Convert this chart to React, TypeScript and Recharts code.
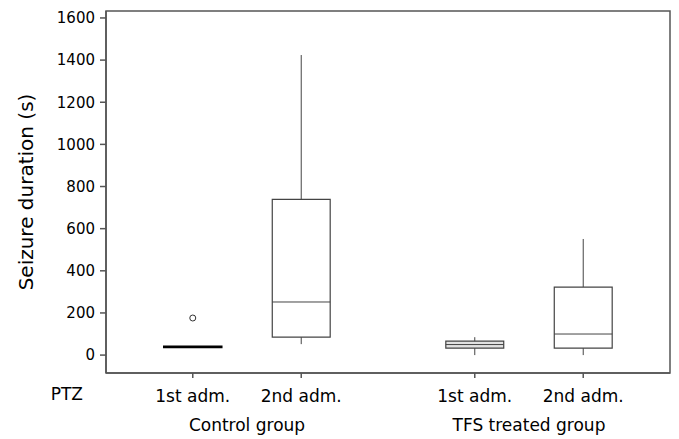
import React from 'react';
import {
  ComposedChart,
  XAxis,
  YAxis,
  ReferenceArea,
  ReferenceLine,
  Scatter,
} from 'recharts';

// Categories (administrations) and their groups
const categories = ['1st adm.', '2nd adm.', '1st adm.', '2nd adm.'];
const xPositions = [1, 2, 3.6, 4.6];
const groupNames = ['Control group', 'TFS treated group'];
const groupPositions = [1.5, 4.1];

// Box-plot statistics (seconds)
const mins = [36, 52, 0, 0];
const q1s = [36, 85, 33, 33];
const medians = [39, 252, 50, 100];
const q3s = [42, 739, 66, 323];
const maxs = [42, 1424, 85, 551];

// Outliers
const outliers = [{ pos: 1, value: 176 }];

const yTicks = [0, 200, 400, 600, 800, 1000, 1200, 1400, 1600];

const X_DOMAIN: [number, number] = [0.2, 5.4];
const Y_DOMAIN: [number, number] = [-85, 1633];
const HALF_W = 0.267;
const boxFills = ['#000000', '#ffffff', '#e2e2e2', '#ffffff'];
const LINE = '#444';
const FRAME = '#555';

// invisible anchors so the group-label axis gets a proper scale
const groupAnchors = groupPositions.map((g) => ({ g, anchor: 0 }));

export default function App() {
  return (
    <div style={{ width: 671, height: 431, fontFamily: '"DejaVu Sans", sans-serif' }}>
      <ComposedChart
        width={671}
        height={431}
        margin={{ top: 3, right: 9, bottom: 0, left: 0 }}
      >
        <XAxis
          xAxisId="adm"
          type="number"
          dataKey="pos"
          domain={X_DOMAIN}
          allowDataOverflow
          ticks={xPositions}
          interval={0}
          tickFormatter={(_v: number, i: number) => categories[i]}
          height={42}
          tickSize={5}
          tickMargin={12}
          stroke={FRAME}
          strokeWidth={1.5}
          tick={{ fill: '#000', fontSize: 17 }}
          label={{ value: 'PTZ', position: 'left', offset: 23, fill: '#000', fontSize: 17 }}
        />
        <XAxis
          xAxisId="group"
          type="number"
          dataKey="g"
          domain={X_DOMAIN}
          allowDataOverflow
          ticks={groupPositions}
          interval={0}
          tickFormatter={(_v: number, i: number) => groupNames[i]}
          height={24}
          axisLine={false}
          tickLine={false}
          tickSize={0}
          tickMargin={4}
          tick={{ fill: '#000', fontSize: 17 }}
        />
        <YAxis
          type="number"
          domain={Y_DOMAIN}
          allowDataOverflow
          ticks={yTicks}
          interval={0}
          width={98}
          tickSize={6}
          tickMargin={5}
          stroke={FRAME}
          strokeWidth={1.5}
          tick={{ fill: '#000', fontSize: 15 }}
          label={{
            value: 'Seizure duration (s)',
            angle: -90,
            position: 'insideLeft',
            offset: 18,
            fill: '#000',
            fontSize: 20,
            style: { textAnchor: 'middle' },
          }}
        />
        <ReferenceArea
          xAxisId="adm"
          x1={X_DOMAIN[0]}
          x2={X_DOMAIN[1]}
          y1={Y_DOMAIN[0]}
          y2={Y_DOMAIN[1]}
          fill="none"
          fillOpacity={0}
          stroke={FRAME}
          strokeWidth={1.5}
          ifOverflow="visible"
        />
        {xPositions.map((p, i) => (
          <ReferenceLine
            key={`wu${i}`}
            xAxisId="adm"
            segment={[{ x: p, y: q3s[i] }, { x: p, y: maxs[i] }]}
            stroke={LINE}
            strokeWidth={1}
            ifOverflow="visible"
          />
        ))}
        {xPositions.map((p, i) => (
          <ReferenceLine
            key={`wl${i}`}
            xAxisId="adm"
            segment={[{ x: p, y: mins[i] }, { x: p, y: q1s[i] }]}
            stroke={LINE}
            strokeWidth={1}
            ifOverflow="visible"
          />
        ))}
        {xPositions.map((p, i) => (
          <ReferenceArea
            key={`box${i}`}
            xAxisId="adm"
            x1={p - HALF_W}
            x2={p + HALF_W}
            y1={q1s[i]}
            y2={q3s[i]}
            fill={boxFills[i]}
            fillOpacity={1}
            stroke={i === 0 ? '#000' : LINE}
            strokeWidth={i === 0 ? 1.6 : 1.2}
            ifOverflow="visible"
          />
        ))}
        {xPositions.map((p, i) => (
          <ReferenceLine
            key={`med${i}`}
            xAxisId="adm"
            segment={[{ x: p - HALF_W, y: medians[i] }, { x: p + HALF_W, y: medians[i] }]}
            stroke={i === 0 ? '#000' : LINE}
            strokeWidth={1}
            ifOverflow="visible"
          />
        ))}
        <Scatter
          xAxisId="group"
          data={groupAnchors}
          dataKey="anchor"
          isAnimationActive={false}
          shape={() => <g />}
          legendType="none"
        />
        <Scatter
          xAxisId="adm"
          data={outliers}
          dataKey="value"
          isAnimationActive={false}
          shape={(props: any) => (
            <circle cx={props.cx} cy={props.cy} r={3} fill="#fff" stroke="#333" strokeWidth={1} />
          )}
        />
      </ComposedChart>
    </div>
  );
}
